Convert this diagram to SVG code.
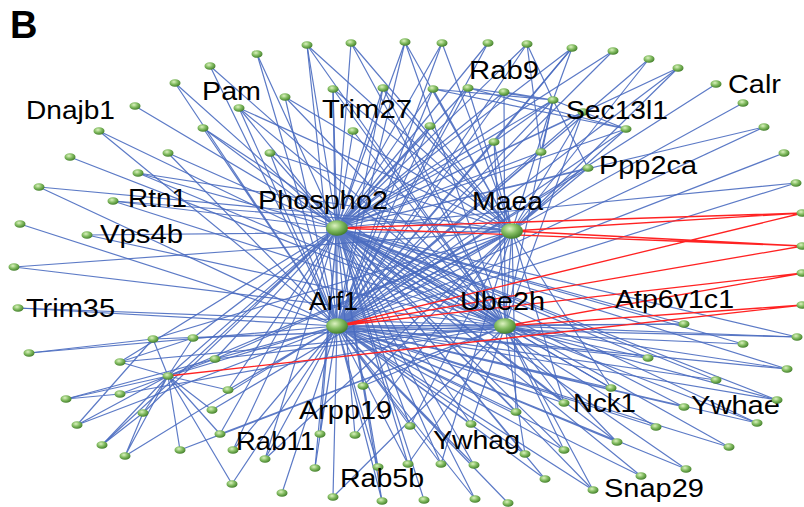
<svg xmlns="http://www.w3.org/2000/svg" width="804" height="507" viewBox="0 0 804 507">
<style>
.e{stroke:#4a6bc0;stroke-width:1.2;fill:none;stroke-opacity:.9}
.r{stroke:#ff2222;stroke-width:1.3;fill:none}
text{font-family:"Liberation Sans",Arial,sans-serif;font-size:26px;fill:#000}
.t{font-size:38px;font-weight:bold}
</style>
<defs>
<radialGradient id="g" cx="40%" cy="35%" r="65%">
<stop offset="0" stop-color="#dcf2c0"/>
<stop offset="0.5" stop-color="#84bd62"/>
<stop offset="1" stop-color="#44802c"/>
</radialGradient>
<ellipse id="dot" rx="5.5" ry="3.8" fill="url(#g)"/>
<ellipse id="hub" rx="11" ry="7.8" fill="url(#g)"/>
</defs>
<rect width="804" height="507" fill="#fff"/>
<text class="t" x="10" y="38">B</text>
<g id="connectors">
<path class="e" d="M257 54L337 228M175 83L337 228M203 128L337 228M239 108L337 228M168 153L337 228M270 153L337 228M138 173L337 228M113 201L337 228M351 43L337 228M405 42L337 228M442 43L337 228M488 43L337 228M527 44L337 228M433 89L337 228M468 88L337 228M504 92L337 228M353 131L337 228M430 126L337 228M494 142L337 228M572 48L337 228M613 51L337 228M678 68L337 228M764 127L337 228M553 100L337 228M583 112L337 228M626 129L337 228M541 152L337 228M588 168L337 228M796 183L337 228M684 324L337 228M797 337L337 228M193 338L337 228M120 362L337 228M168 376L337 228M215 359L337 228M228 390L337 228M143 413L337 228M102 445L337 228M220 434L337 228M233 450L337 228M265 459L337 228M363 386L337 228M320 434L337 228M355 435L337 228M410 426L337 228M471 424L337 228M516 412L337 228M315 468L337 228M378 467L337 228M408 464L337 228M441 464L337 228M474 465L337 228M525 454L337 228M382 501L337 228M424 500L337 228M475 499L337 228M743 344L337 228M787 369L337 228M648 358L337 228M716 380L337 228M611 388L337 228M564 403L337 228M684 407L337 228M777 400L337 228M757 423L337 228M656 427L337 228M729 447L337 228M617 442L337 228M564 450L337 228M686 469L337 228M641 476L337 228M545 479L337 228M593 490L337 228M307 45L337 228M383 88L337 228M333 89L337 228"/>
<path class="e" d="M257 54L337 326M210 66L337 326M175 83L337 326M99 131L337 326M203 128L337 326M239 108L337 326M168 153L337 326M270 153L337 326M39 187L337 326M20 224L337 326M18 308L337 326M307 45L337 326M405 42L337 326M442 43L337 326M488 43L337 326M527 44L337 326M333 89L337 326M383 88L337 326M433 89L337 326M468 88L337 326M504 92L337 326M285 97L337 326M430 126L337 326M494 142L337 326M572 48L337 326M613 51L337 326M649 59L337 326M678 68L337 326M716 84L337 326M743 103L337 326M764 127L337 326M784 153L337 326M553 100L337 326M583 112L337 326M626 129L337 326M541 152L337 326M588 168L337 326M796 183L337 326M684 324L337 326M797 337L337 326M29 353L337 326M168 376L337 326M66 399L337 326M228 390L337 326M77 425L337 326M125 456L337 326M233 450L337 326M265 459L337 326M232 484L337 326M320 434L337 326M410 426L337 326M471 424L337 326M516 412L337 326M315 468L337 326M378 467L337 326M408 464L337 326M441 464L337 326M474 465L337 326M525 454L337 326M282 493L337 326M333 497L337 326M382 501L337 326M475 499L337 326M508 503L337 326M743 344L337 326M787 369L337 326M648 358L337 326M716 380L337 326M611 388L337 326M564 403L337 326M684 407L337 326M777 400L337 326M757 423L337 326M656 427L337 326M729 447L337 326M617 442L337 326M564 450L337 326M686 469L337 326M641 476L337 326M545 479L337 326M593 490L337 326"/>
<path class="e" d="M210 66L505 326M135 106L505 326M203 128L505 326M239 108L505 326M70 157L505 326M87 235L505 326M14 267L505 326M18 308L505 326M307 45L505 326M351 43L505 326M405 42L505 326M333 89L505 326M383 88L505 326M504 92L505 326M285 97L505 326M353 131L505 326M494 142L505 326M553 100L505 326M583 112L505 326M684 324L505 326M797 337L505 326M153 339L505 326M193 338L505 326M120 362L505 326M215 359L505 326M120 394L505 326M180 450L505 326M220 434L505 326M363 386L505 326M471 424L505 326M408 464L505 326M525 454L505 326M333 497L505 326M787 369L505 326M648 358L505 326M611 388L505 326M564 403L505 326M777 400L505 326M757 423L505 326M617 442L505 326M564 450L505 326M593 490L505 326M99 131L505 326M138 173L505 326M113 201L505 326"/>
<path class="e" d="M239 108L512 231M270 153L512 231M138 173L512 231M113 201L512 231M87 235L512 231M333 89L512 231M383 88L512 231M468 88L512 231M285 97L512 231M553 100L512 231M583 112L512 231M626 129L512 231M588 168L512 231M153 339L512 231M168 376L512 231M215 359L512 231M212 410L512 231M265 459L512 231M363 386L512 231M355 435L512 231M410 426L512 231M516 412L512 231M441 464L512 231M611 388L512 231M564 403L512 231M307 45L512 231M351 43L512 231M405 42L512 231M442 43L512 231M433 89L512 231M430 126L512 231M494 142L512 231M649 59L512 231M678 68L512 231M39 187L512 231M14 267L512 231"/>
<path class="e" d="M337 228L337 326M337 326L505 326M337 228L505 326M512 231L337 326M512 231L505 326"/>
<path class="e" d="M153 339L168 376M193 338L168 376M120 362L168 376M215 359L168 376M66 399L168 376M120 394L168 376M228 390L168 376M77 425L168 376M143 413L168 376M212 410L168 376M102 445L168 376M125 456L168 376M180 450L168 376M220 434L168 376M232 484L168 376M29 353L153 339M120 362L193 338M66 399L120 394M125 456L143 413M102 445L143 413M77 425L153 339"/>
<path class="e" d="M527 44L553 100M572 48L553 100M468 88L553 100M504 92L553 100M626 129L553 100M541 152L553 100M588 168L553 100M494 142L553 100M433 89L553 100M626 129L468 88M626 129L433 89M572 48L494 142M527 44L541 152M626 129L583 112"/>
<path class="r" d="M337 228L803 213M337 228L803 246M512 231L803 213M512 231L803 246M337 326L803 213M337 326L803 246M337 326L803 273M505 326L803 273M505 326L803 305M168 376L803 305"/>
</g>
<g id="n1"><use href="#dot" x="257" y="54"/></g>
<g id="n2"><use href="#dot" x="210" y="66"/></g>
<g id="n3"><use href="#dot" x="175" y="83"/></g>
<g id="n4"><use href="#dot" x="135" y="106"/><text x="26" y="119" textLength="89" lengthAdjust="spacingAndGlyphs">Dnajb1</text></g>
<g id="n5"><use href="#dot" x="99" y="131"/></g>
<g id="n6"><use href="#dot" x="203" y="128"/></g>
<g id="n7"><use href="#dot" x="239" y="108"/><text x="202" y="100" textLength="59" lengthAdjust="spacingAndGlyphs">Pam</text></g>
<g id="n8"><use href="#dot" x="168" y="153"/></g>
<g id="n9"><use href="#dot" x="70" y="157"/></g>
<g id="n10"><use href="#dot" x="270" y="153"/></g>
<g id="n11"><use href="#dot" x="138" y="173"/></g>
<g id="n12"><use href="#dot" x="39" y="187"/></g>
<g id="n13"><use href="#dot" x="113" y="201"/><text x="128" y="207" textLength="59" lengthAdjust="spacingAndGlyphs">Rtn1</text></g>
<g id="n14"><use href="#dot" x="20" y="224"/></g>
<g id="n15"><use href="#dot" x="87" y="235"/><text x="100" y="243" textLength="83" lengthAdjust="spacingAndGlyphs">Vps4b</text></g>
<g id="n16"><use href="#dot" x="14" y="267"/></g>
<g id="n17"><use href="#dot" x="18" y="308"/><text x="26" y="317" textLength="89" lengthAdjust="spacingAndGlyphs">Trim35</text></g>
<g id="n18"><use href="#dot" x="307" y="45"/></g>
<g id="n19"><use href="#dot" x="351" y="43"/></g>
<g id="n20"><use href="#dot" x="405" y="42"/></g>
<g id="n21"><use href="#dot" x="442" y="43"/></g>
<g id="n22"><use href="#dot" x="488" y="43"/></g>
<g id="n23"><use href="#dot" x="527" y="44"/></g>
<g id="n24"><use href="#dot" x="333" y="89"/></g>
<g id="n25"><use href="#dot" x="383" y="88"/></g>
<g id="n26"><use href="#dot" x="433" y="89"/></g>
<g id="n27"><use href="#dot" x="468" y="88"/></g>
<g id="n28"><use href="#dot" x="504" y="92"/><text x="469" y="79" textLength="70" lengthAdjust="spacingAndGlyphs">Rab9</text></g>
<g id="n29"><use href="#dot" x="285" y="97"/></g>
<g id="n30"><use href="#dot" x="353" y="131"/><text x="322" y="118" textLength="90" lengthAdjust="spacingAndGlyphs">Trim27</text></g>
<g id="n31"><use href="#dot" x="430" y="126"/></g>
<g id="n32"><use href="#dot" x="494" y="142"/></g>
<g id="n34"><use href="#dot" x="572" y="48"/></g>
<g id="n35"><use href="#dot" x="613" y="51"/></g>
<g id="n36"><use href="#dot" x="649" y="59"/></g>
<g id="n37"><use href="#dot" x="678" y="68"/></g>
<g id="n38"><use href="#dot" x="716" y="84"/><text x="728" y="93" textLength="53" lengthAdjust="spacingAndGlyphs">Calr</text></g>
<g id="n39"><use href="#dot" x="743" y="103"/></g>
<g id="n40"><use href="#dot" x="764" y="127"/></g>
<g id="n41"><use href="#dot" x="784" y="153"/></g>
<g id="n42"><use href="#dot" x="553" y="100"/></g>
<g id="n43"><use href="#dot" x="583" y="112"/><text x="566" y="119" textLength="102" lengthAdjust="spacingAndGlyphs">Sec13l1</text></g>
<g id="n44"><use href="#dot" x="626" y="129"/></g>
<g id="n45"><use href="#dot" x="541" y="152"/></g>
<g id="n46"><use href="#dot" x="588" y="168"/><text x="599" y="174" textLength="98" lengthAdjust="spacingAndGlyphs">Ppp2ca</text></g>
<g id="n47"><use href="#dot" x="796" y="183"/></g>
<g id="n48"><use href="#dot" x="802" y="213"/></g>
<g id="n49"><use href="#dot" x="802" y="246"/></g>
<g id="n50"><use href="#dot" x="802" y="273"/></g>
<g id="n51"><use href="#dot" x="802" y="305"/></g>
<g id="n52"><use href="#dot" x="684" y="324"/><text x="615" y="308" textLength="119" lengthAdjust="spacingAndGlyphs">Atp6v1c1</text></g>
<g id="n53"><use href="#dot" x="797" y="337"/></g>
<g id="n54"><use href="#dot" x="29" y="353"/></g>
<g id="n55"><use href="#dot" x="153" y="339"/></g>
<g id="n56"><use href="#dot" x="193" y="338"/></g>
<g id="n57"><use href="#dot" x="120" y="362"/></g>
<g id="n58"><use href="#dot" x="168" y="376"/></g>
<g id="n59"><use href="#dot" x="215" y="359"/></g>
<g id="n60"><use href="#dot" x="66" y="399"/></g>
<g id="n61"><use href="#dot" x="120" y="394"/></g>
<g id="n62"><use href="#dot" x="228" y="390"/></g>
<g id="n63"><use href="#dot" x="77" y="425"/></g>
<g id="n64"><use href="#dot" x="143" y="413"/></g>
<g id="n65"><use href="#dot" x="212" y="410"/></g>
<g id="n66"><use href="#dot" x="102" y="445"/></g>
<g id="n67"><use href="#dot" x="125" y="456"/></g>
<g id="n68"><use href="#dot" x="180" y="450"/></g>
<g id="n69"><use href="#dot" x="220" y="434"/></g>
<g id="n70"><use href="#dot" x="233" y="450"/></g>
<g id="n71"><use href="#dot" x="265" y="459"/></g>
<g id="n72"><use href="#dot" x="232" y="484"/></g>
<g id="n73"><use href="#dot" x="363" y="386"/><text x="299" y="419" textLength="93" lengthAdjust="spacingAndGlyphs">Arpp19</text></g>
<g id="n74"><use href="#dot" x="320" y="434"/><text x="236" y="450" textLength="79" lengthAdjust="spacingAndGlyphs">Rab11</text></g>
<g id="n75"><use href="#dot" x="355" y="435"/></g>
<g id="n76"><use href="#dot" x="410" y="426"/></g>
<g id="n77"><use href="#dot" x="471" y="424"/><text x="433" y="449" textLength="87" lengthAdjust="spacingAndGlyphs">Ywhag</text></g>
<g id="n78"><use href="#dot" x="516" y="412"/></g>
<g id="n79"><use href="#dot" x="315" y="468"/></g>
<g id="n80"><use href="#dot" x="378" y="467"/><text x="340" y="487" textLength="84" lengthAdjust="spacingAndGlyphs">Rab5b</text></g>
<g id="n81"><use href="#dot" x="408" y="464"/></g>
<g id="n82"><use href="#dot" x="441" y="464"/></g>
<g id="n83"><use href="#dot" x="474" y="465"/></g>
<g id="n84"><use href="#dot" x="525" y="454"/></g>
<g id="n85"><use href="#dot" x="282" y="493"/></g>
<g id="n86"><use href="#dot" x="333" y="497"/></g>
<g id="n87"><use href="#dot" x="382" y="501"/></g>
<g id="n88"><use href="#dot" x="424" y="500"/></g>
<g id="n89"><use href="#dot" x="475" y="499"/></g>
<g id="n90"><use href="#dot" x="508" y="503"/></g>
<g id="n91"><use href="#dot" x="743" y="344"/></g>
<g id="n92"><use href="#dot" x="787" y="369"/></g>
<g id="n93"><use href="#dot" x="648" y="358"/></g>
<g id="n94"><use href="#dot" x="716" y="380"/></g>
<g id="n95"><use href="#dot" x="611" y="388"/></g>
<g id="n96"><use href="#dot" x="564" y="403"/><text x="573" y="412" textLength="63" lengthAdjust="spacingAndGlyphs">Nck1</text></g>
<g id="n97"><use href="#dot" x="684" y="407"/><text x="691" y="414" textLength="89" lengthAdjust="spacingAndGlyphs">Ywhae</text></g>
<g id="n98"><use href="#dot" x="777" y="400"/></g>
<g id="n99"><use href="#dot" x="757" y="423"/></g>
<g id="n100"><use href="#dot" x="656" y="427"/></g>
<g id="n101"><use href="#dot" x="729" y="447"/></g>
<g id="n102"><use href="#dot" x="617" y="442"/></g>
<g id="n103"><use href="#dot" x="564" y="450"/></g>
<g id="n104"><use href="#dot" x="686" y="469"/></g>
<g id="n105"><use href="#dot" x="641" y="476"/></g>
<g id="n106"><use href="#dot" x="545" y="479"/></g>
<g id="n107"><use href="#dot" x="593" y="490"/><text x="604" y="497" textLength="100" lengthAdjust="spacingAndGlyphs">Snap29</text></g>
<g id="phospho2"><use href="#hub" x="337" y="228"/><text x="258" y="209" textLength="130" lengthAdjust="spacingAndGlyphs">Phospho2</text></g>
<g id="maea"><use href="#hub" x="512" y="231"/><text x="472" y="210" textLength="71" lengthAdjust="spacingAndGlyphs">Maea</text></g>
<g id="arf1"><use href="#hub" x="337" y="326"/><text x="309" y="310" textLength="49" lengthAdjust="spacingAndGlyphs">Arf1</text></g>
<g id="ube2h"><use href="#hub" x="505" y="326"/><text x="460" y="310" textLength="85" lengthAdjust="spacingAndGlyphs">Ube2h</text></g>
</svg>
